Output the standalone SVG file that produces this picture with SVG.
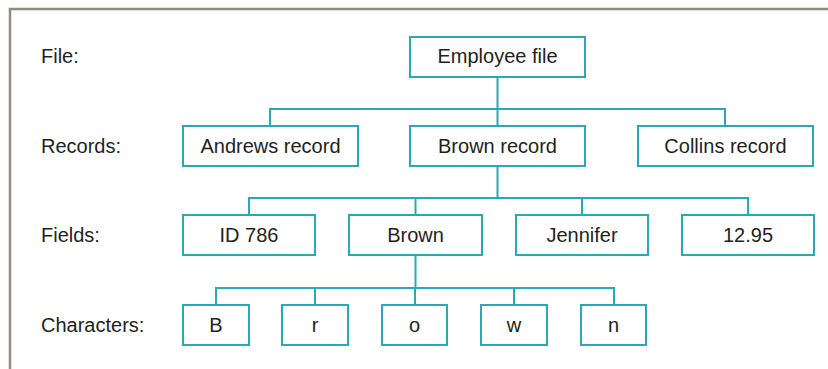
<svg xmlns="http://www.w3.org/2000/svg" width="828" height="369" viewBox="0 0 828 369">
<style>
.b{fill:#fff;stroke:#2aa9b5;stroke-width:2}
.c{fill:none;stroke:#2aa9b5;stroke-width:2}
.t{font-family:"Liberation Sans",Arial,sans-serif;font-size:20px;fill:#231f20}
.m{text-anchor:middle}
</style>
<rect width="828" height="369" fill="#fff"/>
<path d="M10 369V9H828" fill="none" stroke="#948985" stroke-width="2.5"/>
<g id="labels">
<text class="t" x="41" y="63">File:</text>
<text class="t" x="41" y="153">Records:</text>
<text class="t" x="41" y="242">Fields:</text>
<text class="t" x="41" y="332">Characters:</text>
</g>
<g id="connectors">
<path class="c" d="M497.5 77V109M270 126V109H725V126M497.5 109V126"/>
<path class="c" d="M497.5 166V198M249 215V198H748V215M415.5 198V215M582 198V215"/>
<path class="c" d="M415.5 255V288M216 305V288H614V305M315 288V305M415 288V305M514 288V305"/>
</g>
<g id="employee-file"><rect class="b" x="410" y="37" width="175" height="40"/><text class="t m" x="497.5" y="63">Employee file</text></g>
<g id="andrews-record"><rect class="b" x="183" y="126" width="175" height="40"/><text class="t m" x="270.5" y="153">Andrews record</text></g>
<g id="brown-record"><rect class="b" x="410" y="126" width="175" height="40"/><text class="t m" x="497.5" y="153">Brown record</text></g>
<g id="collins-record"><rect class="b" x="638" y="126" width="175" height="40"/><text class="t m" x="725.5" y="153">Collins record</text></g>
<g id="id786"><rect class="b" x="183" y="215" width="132" height="40"/><text class="t m" x="249" y="242">ID 786</text></g>
<g id="brown"><rect class="b" x="349" y="215" width="133" height="40"/><text class="t m" x="415.5" y="242">Brown</text></g>
<g id="jennifer"><rect class="b" x="516" y="215" width="132" height="40"/><text class="t m" x="582" y="242">Jennifer</text></g>
<g id="rate"><rect class="b" x="682" y="215" width="132" height="40"/><text class="t m" x="748" y="242">12.95</text></g>
<g id="char-B"><rect class="b" x="183" y="305" width="66" height="40"/><text class="t m" x="216" y="332">B</text></g>
<g id="char-r"><rect class="b" x="282" y="305" width="66" height="40"/><text class="t m" x="315" y="332">r</text></g>
<g id="char-o"><rect class="b" x="382" y="305" width="65" height="40"/><text class="t m" x="414.5" y="332">o</text></g>
<g id="char-w"><rect class="b" x="481" y="305" width="66" height="40"/><text class="t m" x="514" y="332">w</text></g>
<g id="char-n"><rect class="b" x="581" y="305" width="65" height="40"/><text class="t m" x="613.5" y="332">n</text></g>
</svg>
